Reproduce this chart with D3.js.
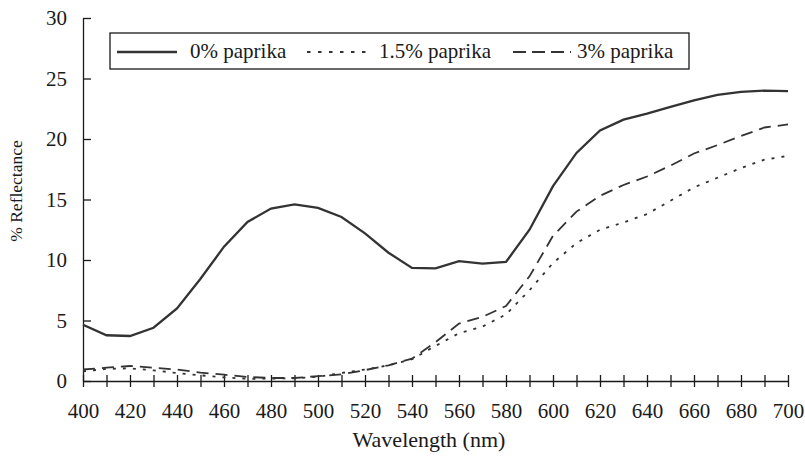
<!DOCTYPE html>
<html>
<head>
<meta charset="utf-8">
<script src="https://cdn.jsdelivr.net/npm/d3@7"></script>
<style>
  body { margin: 0; background: #fff; }
</style>
</head>
<body>
<script>
// wavelength steps (nm)
const wavelengths = d3.range(400, 701, 10);

// % reflectance per paprika level
const paprika0 = [4.65, 3.78, 3.72, 4.4, 6.0, 8.45, 11.1, 13.15, 14.25, 14.6, 14.3, 13.55, 12.2, 10.6, 9.35,
                  9.3, 9.9, 9.7, 9.84, 12.5, 16.1, 18.85, 20.7, 21.6, 22.1, 22.65, 23.2, 23.65, 23.9, 24.0, 23.95];
const paprika15 = [0.8, 1.0, 1.05, 0.88, 0.66, 0.47, 0.3, 0.18, 0.2, 0.22, 0.35, 0.66, 0.95, 1.3, 1.8,
                   2.9, 3.95, 4.5, 5.5, 7.5, 9.75, 11.4, 12.5, 13.1, 13.8, 14.9, 16.0, 16.8, 17.6, 18.3, 18.6];
const paprika3 = [0.95, 1.1, 1.24, 1.1, 0.94, 0.7, 0.52, 0.33, 0.25, 0.25, 0.4, 0.55, 0.9, 1.3, 1.85,
                  3.2, 4.75, 5.3, 6.2, 8.65, 12.0, 14.0, 15.3, 16.2, 16.9, 17.8, 18.8, 19.5, 20.25, 20.95, 21.2];

const seriesNames = ["0% paprika", "1.5% paprika", "3% paprika"];
const seriesData = [paprika0, paprika15, paprika3];
const dashes = [null, "3,7", "12,7"];

const xTicks = d3.range(400, 701, 10);
const yTicks = d3.range(0, 31, 5);

const width = 805, height = 456;
const serif = "'Liberation Serif', 'Times New Roman', serif";

const svg = d3.select("body").append("svg")
    .attr("width", width)
    .attr("height", height);

const x = d3.scaleLinear().domain([400, 700]).range([83, 788]);
const y = d3.scaleLinear().domain([0, 30]).range([381, 18]);

// x axis, ticks cross the line
const xAxis = svg.append("g")
    .attr("transform", "translate(0," + y(0) + ")")
    .call(d3.axisBottom(x)
        .tickValues(xTicks)
        .tickSizeInner(6)
        .tickSizeOuter(0)
        .tickFormat(function (d) { return d % 20 === 0 ? d : ""; }));
xAxis.selectAll(".tick line").attr("y1", -6);
xAxis.selectAll("text").attr("font-size", 21).attr("dy", 0).attr("y", 37);

// y axis
const yAxis = svg.append("g")
    .attr("transform", "translate(" + x(400) + ",0)")
    .call(d3.axisLeft(y)
        .tickValues(yTicks)
        .tickSizeInner(7)
        .tickSizeOuter(0)
        .tickPadding(9));
yAxis.selectAll(".tick line").attr("x2", 8);
yAxis.selectAll("text").attr("font-size", 21).attr("dy", "0.33em");

svg.selectAll(".domain, .tick line").attr("stroke", "#1a1a1a").attr("stroke-width", 1.3);

// lines
const line = d3.line()
    .x(function (d, i) { return x(wavelengths[i]); })
    .y(function (d) { return y(d); });

svg.selectAll(".series")
    .data(seriesData)
    .enter()
    .append("path")
    .attr("class", "series")
    .attr("fill", "none")
    .attr("stroke", "#333")
    .attr("stroke-width", function (d, i) { return i === 0 ? 2.3 : 1.8; })
    .attr("stroke-dasharray", function (d, i) { return dashes[i]; })
    .attr("d", line);

// legend
const legend = svg.append("g");
legend.append("rect")
    .attr("x", 110).attr("y", 33)
    .attr("width", 579).attr("height", 36)
    .attr("fill", "#fff")
    .attr("stroke", "#1a1a1a")
    .attr("stroke-width", 1.3);

const legendItems = [
    {sx: 117, ex: 177, tx: 190},
    {sx: 307, ex: 370, tx: 379},
    {sx: 513, ex: 571, tx: 577}
];
legendItems.forEach(function (it, i) {
    legend.append("line")
        .attr("x1", it.sx).attr("x2", it.ex)
        .attr("y1", 52).attr("y2", 52)
        .attr("stroke", "#333")
        .attr("stroke-width", i === 0 ? 2.3 : 1.8)
        .attr("stroke-dasharray", i === 1 ? "3.5,7.5" : (i === 2 ? "13,6" : null));
    legend.append("text")
        .attr("x", it.tx).attr("y", 58)
        .attr("font-size", 21)
        .text(seriesNames[i]);
});

// axis titles
svg.append("text")
    .attr("x", 429).attr("y", 447)
    .attr("text-anchor", "middle")
    .attr("font-size", 22)
    .text("Wavelength (nm)");

svg.append("text")
    .attr("transform", "translate(22," + 191 + ") rotate(-90)")
    .attr("text-anchor", "middle")
    .attr("font-size", 17.5)
    .text("% Reflectance");

// one serif face for all text
svg.selectAll("text")
    .attr("font-family", serif)
    .attr("fill", "#1a1a1a");
</script>
</body>
</html>
